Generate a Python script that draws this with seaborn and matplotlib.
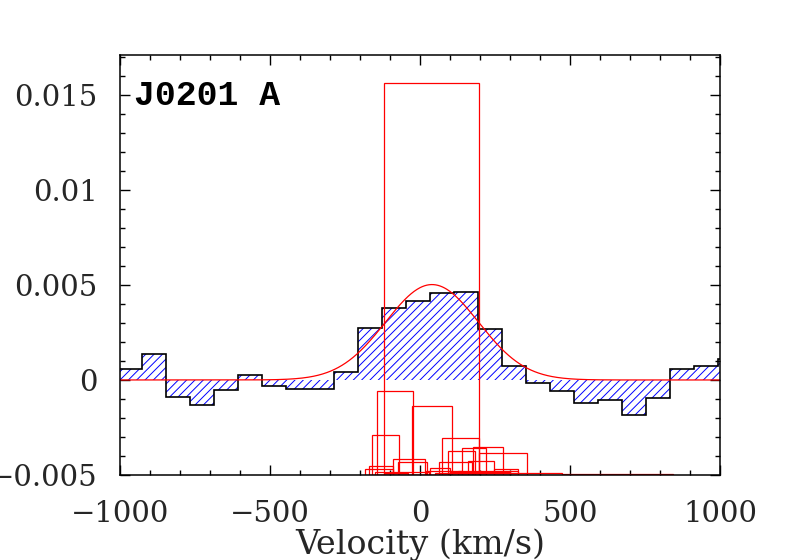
import numpy as np
import seaborn as sns
import matplotlib
matplotlib.use("Agg")
import matplotlib.pyplot as plt

# binned velocity profile (km/s bin edges, flux per bin)
bin_edges = [-1006, -926, -846, -766, -686, -606, -526, -446, -366, -286, -206, -126, -46,
             34, 114, 194, 274, 354, 434, 514, 594, 674, 754, 834, 914, 994, 1074]
bin_values = [0.00056, 0.00135, -0.00089, -0.00133, -0.00054, 0.00025, -0.00033, -0.00047,
              -0.00047, 0.00042, 0.00272, 0.00377, 0.00414, 0.00456, 0.00462, 0.00267,
              0.00072, -0.00018, -0.00060, -0.00121, -0.00107, -0.00186, -0.00096,
              0.00056, 0.00074, 0.00109]

# gaussian fit parameters
fit_amp = 0.00502
fit_center = 40.0
fit_sigma = 155.0

# red boxes: left / right velocity and top value (they start at the bottom axis)
box_left = [-119, -143, -26, -160, 72, 178, 141, 198, 94, -89, -72, 161, 63, -170, -185,
            248, 50, 472, -150, 20, 100, -120, 127, 33]
box_right = [198, -22, 108, -69, 198, 278, 221, 356, 182, 17, 22, 248, 172, -89, -89,
             328, 472, 843, 30, 140, 300, -40, 327, 100]
box_top = [0.01563, -0.00060, -0.00138, -0.00289, -0.00307, -0.00354, -0.00359, -0.00384,
           -0.00374, -0.00417, -0.00432, -0.00426, -0.00433, -0.00453, -0.00467, -0.00470,
           -0.00490, -0.00497, -0.00484, -0.00479, -0.00484, -0.00487, -0.00477, -0.00463]

x_ticks = [-1000, -500, 0, 500, 1000]
y_ticks = [-0.005, 0, 0.005, 0.01, 0.015]
y_ticklabels = ["\u22120.005", "0", "0.005", "0.01", "0.015"]
label_text = "J0201 A"

sns.set_style("ticks")
plt.rcParams["font.family"] = ["DejaVu Serif"]
plt.rcParams["hatch.linewidth"] = 0.7

fig = plt.figure(figsize=(8, 5.6), dpi=100)
ax = fig.add_axes([0.15, 0.1518, 0.75, 0.75])

y_bottom = -0.005
ax.set_xlim(-1000, 1000)
ax.set_ylim(y_bottom, 0.0171)

# hatched fill + black step outline
ax.stairs(bin_values, bin_edges, baseline=0, fill=True, hatch="////",
          facecolor="none", edgecolor="blue", linewidth=0)
ax.stairs(bin_values, bin_edges, baseline=None, color="black", linewidth=1.2)

# red boxes
left = np.array(box_left)
right = np.array(box_right)
top = np.array(box_top)
ax.bar(left, top - y_bottom, width=right - left, bottom=y_bottom, align="edge",
       fill=False, edgecolor="red", linewidth=0.9)

# gaussian fit
v = np.linspace(-1000, 1000, 801)
model = fit_amp * np.exp(-0.5 * ((v - fit_center) / fit_sigma) ** 2)
sns.lineplot(x=v, y=model, color="red", linewidth=0.9, ax=ax)

ax.set_xticks(x_ticks)
ax.set_yticks(y_ticks)
ax.set_yticklabels(y_ticklabels)
ax.minorticks_on()
ax.xaxis.set_minor_locator(matplotlib.ticker.MultipleLocator(100))
ax.yaxis.set_minor_locator(matplotlib.ticker.MultipleLocator(0.001))
ax.tick_params(which="both", direction="in", top=True, right=True, width=1.0,
               color="black", labelsize=21)
ax.tick_params(which="major", length=7)
ax.tick_params(which="minor", length=3.5)
ax.tick_params(axis="x", which="major", pad=18)
ax.tick_params(axis="y", which="major", pad=16)
for s in ax.spines.values():
    s.set_linewidth(1.1)
    s.set_color("black")

ax.set_xlabel("Velocity (km/s)", fontsize=24, labelpad=0)
ax.set_ylabel("")

ax.text(-955, 0.01447, label_text, fontsize=25, fontweight="bold",
        family=["Liberation Mono", "DejaVu Sans Mono"], color="black")

fig.savefig("out.png", dpi=100)
